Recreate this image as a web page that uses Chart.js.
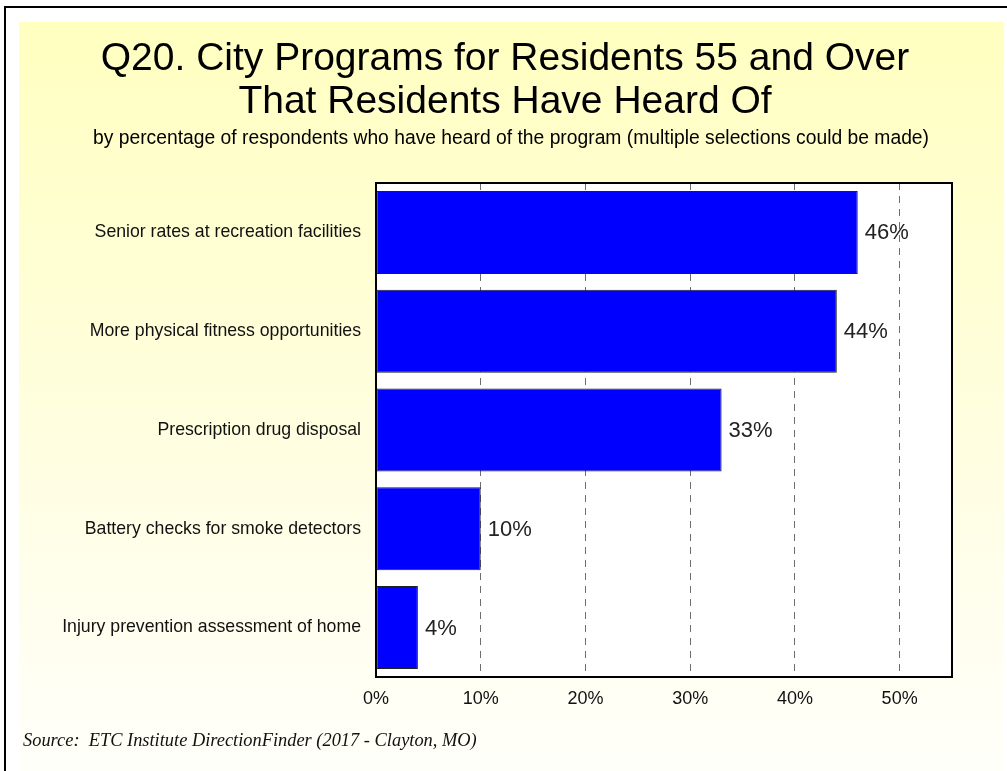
<!DOCTYPE html>
<html>
<head>
<meta charset="utf-8">
<title>City Programs for Residents 55 and Over</title>
<script src="https://cdn.jsdelivr.net/npm/chart.js@4/dist/chart.umd.min.js"></script>
<style>
  html, body { margin: 0; padding: 0; background: #ffffff; }
  canvas { display: block; }
</style>
</head>
<body>
<canvas id="chart" width="1007" height="771"></canvas>
<script>
// Survey results: share of respondents who have heard of each program
const categories = [
  'Senior rates at recreation facilities',
  'More physical fitness opportunities',
  'Prescription drug disposal',
  'Battery checks for smoke detectors',
  'Injury prevention assessment of home'
];
const heardOfPct = [46, 44, 33, 10, 4];
const tickValues = [0, 10, 20, 30, 40, 50];

const titleLines = [
  'Q20. City Programs for Residents 55 and Over',
  'That Residents Have Heard Of'
];
const subtitleText = 'by percentage of respondents who have heard of the program (multiple selections could be made)';
const sourceText = 'Source:  ETC Institute DirectionFinder (2017 - Clayton, MO)';

const SANS = "'Liberation Sans', Arial, Helvetica, sans-serif";
const SERIF = "'Liberation Serif', 'Times New Roman', serif";

// Page frame, yellow panel, headings, plot border, value labels and source line
const decorations = {
  id: 'decorations',
  beforeDraw(chart) {
    const { ctx, width, height } = chart;
    ctx.save();
    ctx.fillStyle = '#ffffff';
    ctx.fillRect(0, 0, width, height);
    const grad = ctx.createLinearGradient(0, 22, 0, height);
    grad.addColorStop(0, '#ffffc0');
    grad.addColorStop(0.55, '#fffee0');
    grad.addColorStop(1, '#fffffa');
    ctx.fillStyle = grad;
    ctx.fillRect(19, 22, 985, height - 22);
    // outer frame
    ctx.strokeStyle = '#000000';
    ctx.lineWidth = 2;
    ctx.beginPath();
    ctx.moveTo(5, height);
    ctx.lineTo(5, 7);
    ctx.lineTo(width, 7);
    ctx.stroke();
    // white plotting area
    const a = chart.chartArea;
    ctx.fillStyle = '#ffffff';
    ctx.fillRect(a.left, a.top, a.right - a.left, a.bottom - a.top);
    ctx.restore();
  },
  afterDatasetsDraw(chart) {
    const { ctx } = chart;
    const a = chart.chartArea;
    ctx.save();
    // plot frame
    ctx.strokeStyle = '#000000';
    ctx.lineWidth = 2;
    ctx.strokeRect(a.left, a.top, a.right - a.left, a.bottom - a.top);

    // value labels beside each bar
    const meta = chart.getDatasetMeta(0);
    ctx.fillStyle = '#222222';
    ctx.font = '22px ' + SANS;
    ctx.textAlign = 'left';
    ctx.textBaseline = 'middle';
    meta.data.forEach((bar, i) => {
      ctx.fillText(heardOfPct[i] + '%', bar.x + 7, bar.y + 1);
    });

    // headings
    ctx.fillStyle = '#000000';
    ctx.textAlign = 'center';
    ctx.textBaseline = 'alphabetic';
    ctx.font = '39px ' + SANS;
    ctx.fillText(titleLines[0], 505, 70);
    ctx.fillText(titleLines[1], 505, 113);
    ctx.font = '19.3px ' + SANS;
    ctx.fillText(subtitleText, 511, 144);

    // source note
    ctx.textAlign = 'left';
    ctx.font = 'italic 18.4px ' + SERIF;
    ctx.fillStyle = '#111111';
    ctx.fillText(sourceText, 23, 746);
    ctx.restore();
  }
};

new Chart(document.getElementById('chart'), {
  type: 'bar',
  data: {
    labels: categories,
    datasets: [{
      data: heardOfPct,
      backgroundColor: '#0000ff',
      borderColor: '#202020',
      borderWidth: 1,
      borderSkipped: false,
      barPercentage: 0.84,
      categoryPercentage: 1.0
    }]
  },
  options: {
    indexAxis: 'y',
    responsive: false,
    animation: false,
    devicePixelRatio: 1,
    layout: { padding: { top: 183, left: 10, right: 55, bottom: 0 } },
    plugins: {
      legend: { display: false },
      title: { display: false },
      tooltip: { enabled: false }
    },
    scales: {
      x: {
        type: 'linear',
        min: 0,
        max: 55,
        afterBuildTicks(scale) {
          scale.ticks = tickValues.map(v => ({ value: v }));
        },
        afterFit(scale) { scale.height = 94; },
        grid: {
          drawTicks: false,
          lineWidth: 1,
          color: ctx => (ctx.tick && ctx.tick.value === 0) ? 'rgba(0,0,0,0)' : '#6e6e6e'
        },
        border: { display: false, dash: [7, 6] },
        ticks: {
          padding: 11,
          color: '#111111',
          font: { family: SANS, size: 18 },
          callback: v => v + '%'
        }
      },
      y: {
        afterFit(scale) { scale.width = 366; },
        grid: { display: false, drawTicks: false },
        border: { display: false },
        ticks: {
          padding: 15,
          color: '#111111',
          font: { family: SANS, size: 17.7 }
        }
      }
    }
  },
  plugins: [decorations]
});
</script>
</body>
</html>
